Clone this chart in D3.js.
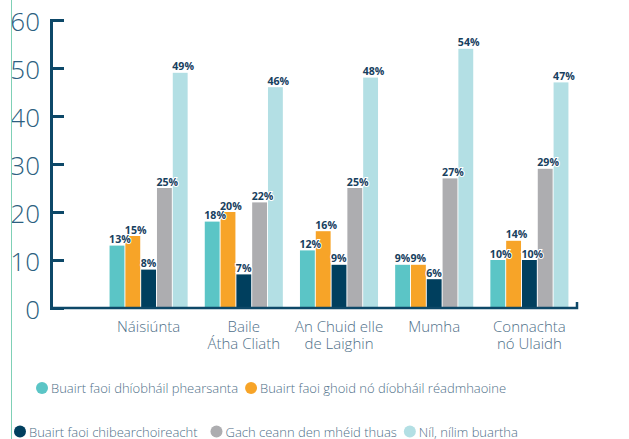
<!DOCTYPE html>
<html>
<head>
<meta charset="utf-8">
<script src="https://cdn.jsdelivr.net/npm/d3@7"></script>
<style>
  body { margin: 0; background: #fff; }
  svg { display: block; font-family: 'Open Sans', sans-serif; }
</style>
</head>
<body>
<svg id="svg" width="629" height="439"></svg>
<script>
// data
const regions = [['Náisiúnta'], ['Baile', 'Átha Cliath'], ['An Chuid elle', 'de Laighin'], ['Mumha'], ['Connachta', 'nó Ulaidh']];
const seriesNames = [
  'Buairt faoi dhíobháil phearsanta',
  'Buairt faoi ghoid nó díobháil réadmhaoine',
  'Buairt faoi chibearchoireacht',
  'Gach ceann den mhéid thuas',
  'Níl, nílim buartha'
];
const personal = [13, 18, 12, 9, 10];
const property = [15, 20, 16, 9, 14];
const cyber = [8, 7, 9, 6, 10];
const allAbove = [25, 22, 25, 27, 29];
const notWorried = [49, 46, 48, 54, 47];
const yTicks = [0, 10, 20, 30, 40, 50, 60];

const colors = ['#5bc5c6', '#f7a428', '#003f5e', '#adadb0', '#b3dfe4'];
const values = [personal, property, cyber, allAbove, notWorried];

const svg = d3.select('#svg');
const axisColor = '#0d4868';

// left page rule + clip for the big y labels
svg.append('defs').append('clipPath').attr('id', 'clip')
  .append('rect').attr('x', 12).attr('y', 0).attr('width', 617).attr('height', 439);
svg.append('line')
  .attr('x1', 11.5).attr('x2', 11.5).attr('y1', 0).attr('y2', 439)
  .attr('stroke', '#7fd0b6').attr('stroke-width', 1);

const g = svg.append('g').attr('clip-path', 'url(#clip)');

const y = d3.scaleLinear().domain([0, 60]).range([308, 20]);
const x0 = d3.scaleBand()
  .domain(regions.map((d, i) => i))
  .range([101, 577])
  .paddingInner(0.18)
  .paddingOuter(0.09);
const x1 = d3.scaleBand()
  .domain(d3.range(seriesNames.length))
  .range([0, x0.bandwidth()])
  .paddingInner(0.06);

// bars
const groups = g.append('g')
  .selectAll('g')
  .data(regions)
  .join('g')
  .attr('transform', (d, i) => `translate(${x0(i)},0)`);

groups.selectAll('rect')
  .data((d, i) => values.map((s, k) => ({ k, v: s[i] })))
  .join('rect')
  .attr('x', d => x1(d.k))
  .attr('y', d => y(d.v))
  .attr('width', x1.bandwidth())
  .attr('height', d => y(0) - y(d.v))
  .attr('fill', d => colors[d.k]);

groups.selectAll('text.val')
  .data((d, i) => values.map((s, k) => ({ k, v: s[i] })))
  .join('text')
  .attr('class', 'val')
  .attr('x', d => x1(d.k) - 0.5)
  .attr('y', d => y(d.v) - 2.5)
  .attr('font-size', 10.6)
  .attr('font-weight', 700)
  .attr('fill', '#17405e')
  .attr('stroke', '#fff')
  .attr('stroke-width', 2)
  .attr('paint-order', 'stroke')
  .text(d => d.v + '%');

// y axis, ticks pointing inward
const yAxis = g.append('g')
  .attr('transform', 'translate(51,0)')
  .call(d3.axisLeft(y).tickValues(yTicks).tickSize(-13).tickSizeOuter(-13).tickPadding(11));
yAxis.select('.domain').attr('stroke', axisColor).attr('stroke-width', 3);
yAxis.selectAll('.tick line').attr('stroke', axisColor).attr('stroke-width', 3);
yAxis.selectAll('.tick text')
  .attr('fill', '#2d5f80')
  .attr('font-size', 26)
  .attr('font-weight', 300)
  .attr('font-family', "'Open Sans', sans-serif")
  .attr('dy', '0.42em');

// x axis
const xAxis = g.append('g')
  .attr('transform', `translate(0,${y(0)})`)
  .call(d3.axisBottom(x0).tickSize(0).tickPadding(12));
xAxis.select('.domain')
  .attr('d', `M51,0H${x0.range()[1]}V-6`)
  .attr('stroke', axisColor).attr('stroke-width', 2.5).attr('fill', 'none');
xAxis.selectAll('.tick text').remove();
xAxis.selectAll('.tick')
  .append('text')
  .attr('text-anchor', 'middle')
  .attr('fill', '#4f7089')
  .attr('font-size', 15)
  .attr('font-weight', 300)
  .attr('font-family', "'Open Sans', sans-serif")
  .selectAll('tspan')
  .data(i => regions[i])
  .join('tspan')
  .attr('x', 0)
  .attr('y', (d, j) => 24 + j * 17)
  .text(d => d);

// legend
const legendRows = [[0, 1], [2, 3, 4]];
const legendStart = [36, 14];
const legendY = [388, 431.5];
legendRows.forEach((row, r) => {
  let cx = legendStart[r];
  row.forEach(k => {
    const item = g.append('g').attr('transform', `translate(${cx},${legendY[r]})`);
    item.append('circle').attr('cx', 6).attr('cy', 0).attr('r', 6).attr('fill', colors[k]);
    const t = item.append('text')
      .attr('x', 15)
      .attr('y', 5)
      .attr('font-size', 13)
      .attr('font-weight', 300)
      .attr('fill', '#4f7089')
      .text(seriesNames[k]);
    cx += 15 + t.node().getComputedTextLength() + (k === 2 ? 13 : 7);
  });
});
</script>
</body>
</html>
